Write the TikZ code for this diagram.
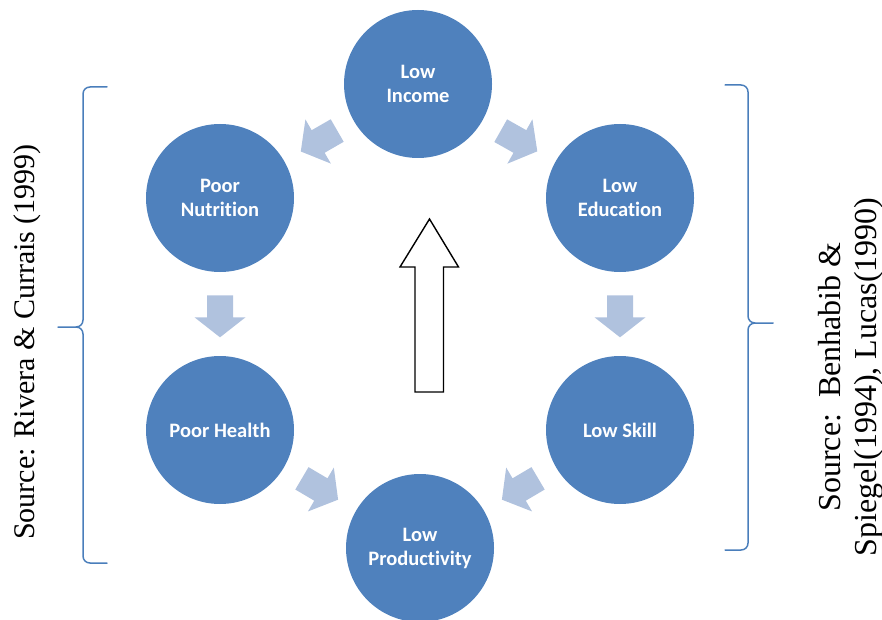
\documentclass[tikz,border=0pt]{standalone}
\usepackage{fontspec}
\setmainfont{Liberation Serif}
\newfontfamily\calib[Ligatures=NoCommon]{Carlito}
\usetikzlibrary{calc}
\definecolor{circblue}{RGB}{79,129,189}
\definecolor{softblue}{RGB}{176,194,222}
\definecolor{bracecol}{RGB}{74,126,187}
\tikzset{
  cyclenode/.style={circle, fill=circblue, minimum size=148pt, inner sep=0pt,
    text=white, align=center, font=\calib\bfseries\fontsize{20.5}{24}\selectfont},
  blockarrow/.pic={\fill[softblue] (-21,-13) -- (1,-13) -- (1,-25.5) -- (21,0)
    -- (1,25.5) -- (1,13) -- (-21,13) -- cycle;},
  bracepath/.style={draw=bracecol, line width=1.5pt, line cap=round, line join=round},
  sourcetext/.style={rotate=90, align=center, inner sep=0pt},
  bigarrow/.style={draw=black, line width=1.4pt, fill=white, line join=miter}
}
\begin{document}
\begin{tikzpicture}[x=1pt,y=-1pt]
\useasboundingbox (0,0) rectangle (882,620);
\clip (0,0) rectangle (882,620);

% cycle nodes
\node[cyclenode] (inc) at (418,84) {Low\\Income};
\node[cyclenode] (nut) at (220,198) {Poor\\Nutrition};
\node[cyclenode] (edu) at (620,198) {Low\\Education};
\node[cyclenode] (hea) at (220,430) {Poor Health};
\node[cyclenode] (ski) at (620,430) {Low Skill};
\node[cyclenode] (pro) at (420,548) {Low\\Productivity};

% block arrows between the circles
\path let \p1=($(nut)-(inc)$), \n1={atan2(\y1,\x1)} in
  pic[rotate=\n1] at ($(inc)!0.5!(nut)$) {blockarrow};
\path let \p1=($(edu)-(inc)$), \n1={atan2(\y1,\x1)} in
  pic[rotate=\n1] at ($(inc)!0.5!(edu)$) {blockarrow};
\path let \p1=($(hea)-(nut)$), \n1={atan2(\y1,\x1)} in
  pic[rotate=\n1] at ($(nut)!0.51!(hea)$) {blockarrow};
\path let \p1=($(ski)-(edu)$), \n1={atan2(\y1,\x1)} in
  pic[rotate=\n1] at ($(edu)!0.51!(ski)$) {blockarrow};
\path let \p1=($(pro)-(hea)$), \n1={atan2(\y1,\x1)} in
  pic[rotate=\n1] at ($(hea)!0.5!(pro)$) {blockarrow};
\path let \p1=($(pro)-(ski)$), \n1={atan2(\y1,\x1)} in
  pic[rotate=\n1] at ($(ski)!0.5!(pro)$) {blockarrow};

% central hollow arrow
\draw[bigarrow] (415,392) -- (415,267) -- (400,267) -- (429.5,219) -- (458.5,267)
  -- (443.5,267) -- (443.5,392) -- cycle;

% left brace
\draw[bracepath] (107,87) -- (90,87) .. controls (86,87) and (83,90) .. (83,94)
  -- (83,320) .. controls (83,324) and (80,327) .. (76,327) -- (58,327)
  (76,327) .. controls (80,327) and (83,330) .. (83,334)
  -- (83,556) .. controls (83,560) and (86,563) .. (90,563) -- (107,563);

% right brace
\draw[bracepath] (725,85) -- (741,85) .. controls (745,85) and (748,88) .. (748,92)
  -- (748,316) .. controls (748,320) and (751,323) .. (755,323) -- (773,323)
  (755,323) .. controls (751,323) and (748,326) .. (748,330)
  -- (748,543) .. controls (748,547) and (745,550) .. (741,550) -- (725,550);

% source texts
\node[sourcetext, font=\fontsize{30}{36}\selectfont] (srcl) at (27,342)
  {Source: Rivera \& Currais (1999)};
\node[sourcetext, font=\fontsize{32}{36}\selectfont] (srcr) at (851,377)
  {Source:\ \ Benhabib \&\\Spiegel(1994), Lucas(1990)};
\end{tikzpicture}
\end{document}
